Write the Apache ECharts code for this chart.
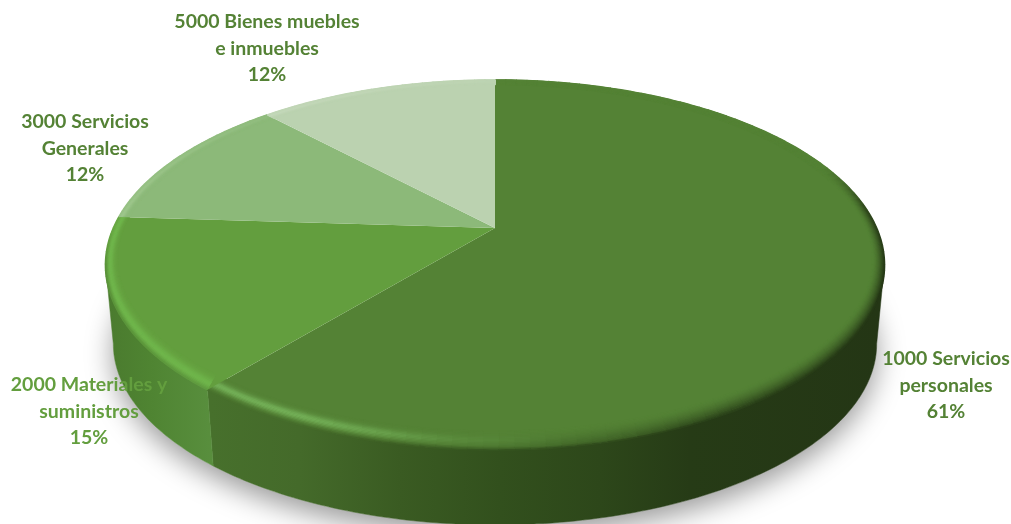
<!DOCTYPE html>
<html>
<head>
<meta charset="utf-8">
<style>html,body{margin:0;padding:0;background:#fff}#chart{width:1011px;height:524px}</style>
<script src="https://cdn.jsdelivr.net/npm/echarts@6/dist/echarts.min.js"></script>
</head>
<body>
<div id="chart"></div>
<script>
// Budget share by chapter
const categories = ['1000 Servicios\npersonales', '2000 Materiales y\nsuministros', '3000 Servicios\nGenerales', '5000 Bienes muebles\ne inmuebles'];
const shares = [61, 15, 12, 12];

// Slice appearance
const faceColors = ['#548235', '#639e3e', '#8cb979', '#bbd2b0'];
const labelColors = ['#548235', '#639e3e', '#548235', '#548235'];
const labelCentres = [[946, 385.5], [89, 411.5], [85, 148.5], [267, 48.5]];

// Perspective disc: apex, half-axes and foreshortening
const apex = [495, 228], axisX = 381.6, axisY = 177.6, persp = 0.2;
const baseScale = 0.98, baseDrop = 79.4;

const total = shares.reduce((a, b) => a + b, 0);
const bounds = shares.reduce((acc, v) => (acc.push(acc[acc.length - 1] + v / total * Math.PI * 2), acc), [0]);

// The side wall is only visible between the two silhouette angles
const silhouette = Math.acos(-persp);

function rimPoint(theta, scale, drop) {
  const u = Math.sin(theta), v = Math.cos(theta), w = 1 + persp * v;
  return [apex[0] + scale * axisX * u / w, apex[1] + drop - scale * axisY * v / w];
}
function bevelPoint(theta, t) {
  const v = Math.cos(theta);
  const inner = rimPoint(theta, 0.97, 0);
  inner[1] -= 12 * Math.max(0, (0.3 - v) / 1.3);
  const outer = rimPoint(theta, 1, 0);
  return [inner[0] + (outer[0] - inner[0]) * t, inner[1] + (outer[1] - inner[1]) * t];
}
function arc(a, b, fn) {
  const n = Math.max(8, Math.ceil((b - a) * 60)), pts = [];
  for (let i = 0; i <= n; i++) pts.push(fn(a + (b - a) * i / n));
  return pts;
}
const hex = c => [1, 3, 5].map(i => parseInt(c.substr(i, 2), 16));
const mix = (a, b, f) => a.map((x, i) => x + (b[i] - x) * f);
const css = c => `rgb(${c.map(Math.round).join(',')})`;
function lookup(table, x) {
  if (x <= table[0][0]) return table[0][1];
  for (let i = 1; i < table.length; i++) {
    if (x <= table[i][0]) {
      const f = (x - table[i - 1][0]) / (table[i][0] - table[i - 1][0]);
      const p = table[i - 1][1], q = table[i][1];
      return Array.isArray(p) ? mix(p, q, f) : p + (q - p) * f;
    }
  }
  return table[table.length - 1][1];
}

// Side wall shading by horizontal position
const wallTables = [
  [[211, '#47702c'], [300, '#446a2a'], [400, '#3a5b22'], [500, '#32501d'], [600, '#2d471a'], [690, '#263b16'], [880, '#243615']].map(([x, c]) => [x, hex(c)]),
  [[105, '#4a7a2e'], [150, '#4f8432'], [215, '#598f3e']].map(([x, c]) => [x, hex(c)])
];
const wallGradient = i => {
  const t = wallTables[i], x0 = t[0][0], x1 = t[t.length - 1][0];
  return {
    type: 'linear', x: x0, y: 0, x2: x1, y2: 0, global: true,
    colorStops: t.map(([x, c]) => ({ offset: (x - x0) / (x1 - x0), color: css(c) }))
  };
};

// Rim lighting per slice, keyed by angle in degrees
const rimStyles = [
  { hl: hex('#72ae56'), centre: 0.52, width: 0.24,
    edge: [[72, 0], [92, 0.9], [220, 0.9]],
    light: [[170, 0], [185, 0.3], [195, 0.75], [205, 1], [220, 1]],
    shade: [[68, 0], [85, 0.8], [110, 1], [150, 0.9], [170, 0.55], [180, 0.3], [192, 0.08], [202, 0]] },
  { hl: hex('#6fb54b'), centre: 0.66, width: 0.36,
    edge: [[219, 0.45], [258, 0.45], [270, 0]],
    light: [[219, 1], [274, 1]], shade: [[219, 0], [274, 0]] },
  { hl: hex('#a5cc94'), centre: 0.8, width: 0.3,
    edge: [[273, 0], [317, 0]],
    light: [[273, 0.7], [317, 0.2]], shade: [[273, 0], [317, 0]] },
  { hl: hex('#d0e1c8'), centre: 0.8, width: 0.3,
    edge: [[316, 0], [360, 0]],
    light: [[316, 0.4], [360, 0.1]], shade: [[316, 0], [360, 0]] }
];

function renderWall(params) {
  const i = params.dataIndex;
  const a = Math.max(bounds[i], silhouette), b = Math.min(bounds[i + 1], Math.PI * 2 - silhouette);
  const children = [];
  if (i === 0) {
    children.push({
      type: 'polygon',
      shape: { points: arc(0, Math.PI * 2, t => rimPoint(t, baseScale, baseDrop)) },
      style: { fill: '#ffffff', shadowColor: 'rgba(0,0,0,0.4)', shadowBlur: 28, shadowOffsetY: 10, shadowOffsetX: 0 }
    });
  }
  if (b <= a) return { type: 'group', children };
  const fill = wallGradient(i);
  children.push({
    type: 'polygon',
    shape: { points: arc(a, b, t => rimPoint(t, 1, 0)).concat(arc(a, b, t => rimPoint(t, baseScale, baseDrop)).reverse()) },
    style: { fill, stroke: fill, lineWidth: 0.5 }
  });
  return { type: 'group', children };
}

function renderFace(params) {
  const i = params.dataIndex, a = bounds[i], b = bounds[i + 1];
  const face = hex(faceColors[i]), st = rimStyles[i];
  const wallTable = wallTables[Math.min(i, 1)];
  const children = [{
    type: 'polygon',
    shape: { points: [apex].concat(arc(a, b, t => rimPoint(t, 1, 0))) },
    style: { fill: faceColors[i] }
  }];
  const rings = 14, chunks = Math.ceil((b - a) * 30);
  for (let r = 0; r <= rings; r++) {
    const t = r / rings;
    const bump = Math.exp(-Math.pow((t - st.centre) / st.width, 2));
    const edgeRamp = Math.pow(Math.max(0, (t - 0.7) / 0.3), 1.5);
    const fade = Math.pow(t, 1.6);
    for (let c = 0; c < chunks; c++) {
      const t0 = a + (b - a) * c / chunks, t1 = a + (b - a) * (c + 1) / chunks, mid = (t0 + t1) / 2;
      const deg = mid * 180 / Math.PI;
      const p = bevelPoint(mid, t);
      const wall = lookup(wallTable, p[0]);
      let col = mix(face, st.hl, lookup(st.light, deg) * bump);
      col = mix(col, wall, Math.max(lookup(st.shade, deg) * fade, edgeRamp * lookup(st.edge, deg)));
      children.push({
        type: 'polyline',
        shape: { points: [bevelPoint(t0, t), bevelPoint(mid, t), bevelPoint(t1 + 0.002, t)] },
        style: { stroke: css(col), fill: null, lineWidth: 1.7 }
      });
    }
  }
  return { type: 'group', children };
}

function renderLabel(params, api) {
  const i = params.dataIndex;
  return {
    type: 'text',
    x: labelCentres[i][0], y: labelCentres[i][1],
    style: {
      text: categories[i] + '\n' + Math.round(api.value(0) / total * 100) + '%',
      align: 'center', verticalAlign: 'middle',
      fill: labelColors[i], font: 'bold 19.5px Lato', lineHeight: 26.3
    }
  };
}

const chart = echarts.init(document.getElementById('chart'), null, { renderer: 'canvas' });
const seriesData = shares.map((v, i) => ({ name: categories[i], value: [v] }));
const common = { type: 'custom', coordinateSystem: 'none', silent: true, data: seriesData, clip: false };
chart.setOption({
  animation: false,
  backgroundColor: '#ffffff',
  series: [
    Object.assign({ renderItem: renderWall }, common),
    Object.assign({ renderItem: renderFace }, common),
    Object.assign({ renderItem: renderLabel }, common)
  ]
});
</script>
</body>
</html>
